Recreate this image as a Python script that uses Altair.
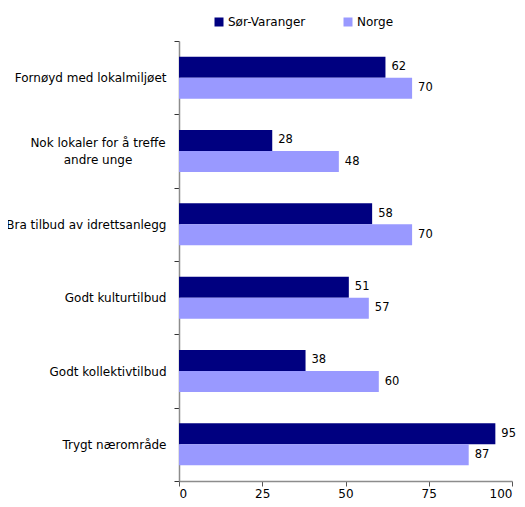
import altair as alt
import pandas as pd

categories = [
    "Fornøyd med lokalmiljøet",
    "Nok lokaler for å treffe andre unge",
    "Bra tilbud av idrettsanlegg",
    "Godt kulturtilbud",
    "Godt kollektivtilbud",
    "Trygt nærområde",
]
series = ["Sør-Varanger", "Norge"]
sor_varanger = [62, 28, 58, 51, 38, 95]
norge = [70, 48, 70, 57, 60, 87]
colors = ["#000080", "#9999FF"]
x_ticks = [0, 25, 50, 75, 100]

rows = []
for c, a, b in zip(categories, sor_varanger, norge):
    rows.append({"kategori": c, "serie": series[0], "verdi": a})
    rows.append({"kategori": c, "serie": series[1], "verdi": b})
df = pd.DataFrame(rows)

LONG = categories[1]
long_df = pd.DataFrame([{"kategori": LONG, "tekst": LONG.replace("treffe ", "treffe\n")}])

label_expr = "datum.value == '" + LONG + "' ? '' : datum.value"

FONT = "DejaVu Sans"

y_enc = alt.Y(
    "kategori:N",
    sort=categories,
    scale=alt.Scale(paddingInner=0, paddingOuter=0),
    axis=alt.Axis(
        title=None,
        tickBand="extent",
        labelExpr=label_expr,
        labelFont=FONT,
        labelFontSize=12,
        labelColor="#000000",
        labelPadding=8,
        labelLimit=300,
        tickSize=5,
        tickColor="#333333",
        domainColor="#8c8c8c",
        domainWidth=1.5,
        grid=False,
    ),
)
yoff_enc = alt.YOffset(
    "serie:N",
    sort=series,
    scale=alt.Scale(paddingInner=0, paddingOuter=0.745),
)
x_enc = alt.X(
    "verdi:Q",
    scale=alt.Scale(domain=[0, 100], nice=False),
    axis=alt.Axis(
        title=None,
        values=x_ticks,
        labelFont=FONT,
        labelFontSize=12,
        labelColor="#000000",
        labelPadding=2,
        tickSize=5,
        tickColor="#555555",
        domainColor="#8c8c8c",
        domainWidth=1.5,
        grid=False,
    ),
)

bars = alt.Chart(df).mark_bar(stroke=None).encode(
    x=x_enc,
    y=y_enc,
    yOffset=yoff_enc,
    color=alt.Color(
        "serie:N",
        sort=series,
        scale=alt.Scale(domain=series, range=colors),
        legend=alt.Legend(
            title=None,
            orient="none",
            direction="horizontal",
            legendX=34,
            legendY=-25,
            symbolType="square",
            symbolSize=81,
            symbolStrokeWidth=0,
            labelFont=FONT,
            labelFontSize=12,
            labelColor="#000000",
            columnPadding=36,
            labelOffset=3,
            padding=0,
        ),
    ),
)

labels = alt.Chart(df).mark_text(
    align="left", baseline="middle", dx=6, font=FONT, fontSize=11.5, color="#000000"
).encode(
    x="verdi:Q",
    y=alt.Y("kategori:N", sort=categories),
    yOffset=alt.YOffset("serie:N", sort=series),
    text="verdi:Q",
)

long_label = alt.Chart(long_df).mark_text(
    align="center", baseline="middle", font=FONT, fontSize=12, color="#000000",
    lineBreak="\n", lineHeight=17, dy=-8,
).encode(
    x=alt.value(-81),
    y=alt.Y("kategori:N", sort=categories),
    text="tekst:N",
)

chart = (
    alt.layer(bars, labels, long_label)
    .properties(
        width=333,
        height=440,
        autosize=alt.AutoSizeParams(type="none"),
        padding={"left": 171, "top": 33, "right": 5, "bottom": 18},
    )
    .configure_view(stroke=None)
)

chart.save("out.html", embed_options={"renderer": "svg", "actions": False})
